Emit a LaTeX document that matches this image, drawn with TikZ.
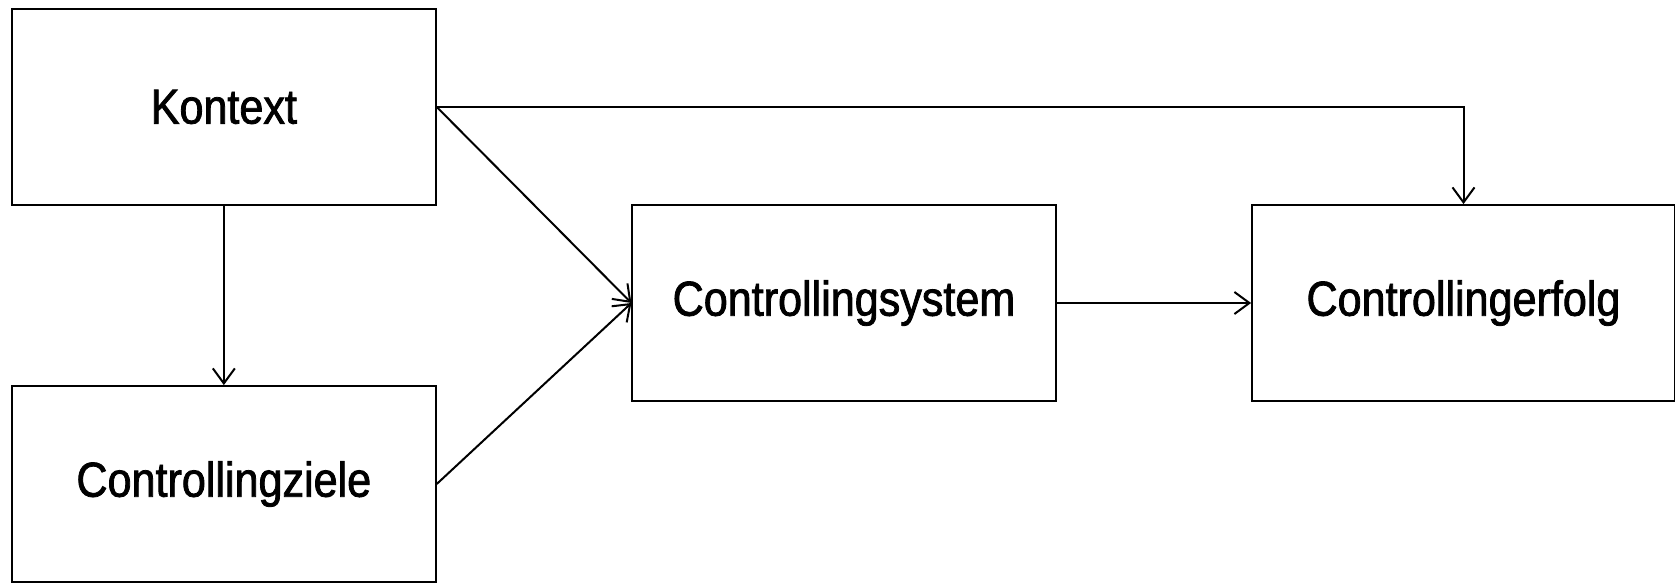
\documentclass[tikz,border=0pt]{standalone}
\usepackage{fontspec}
\setmainfont{Liberation Sans}[FakeStretch=0.88,FakeBold=1.6]
\usetikzlibrary{arrows.meta}
\tikzset{
  box/.style={draw=black, line width=1.8pt, rectangle, minimum width=424pt, minimum height=196pt, inner sep=0pt, font=\fontsize{49pt}{55pt}\selectfont, fill=white},
  conn/.style={draw=black, line width=2pt, -{Straight Barb[length=15pt,width=22pt,line width=2pt]}}
}
\begin{document}
\begin{tikzpicture}[x=1pt,y=1pt]
\useasboundingbox (0,0) rectangle (1675,583);
\node[box] (K) at (223.85,476) {Kontext};
\node[box] (Z) at (223.85,99) {Controllingziele};
\node[box, minimum width=423.4pt] (S) at (844,280) {Controllingsystem};
\node[box, minimum width=423pt] (E) at (1463.5,280) {Controllingerfolg};
\draw[conn] (K.south) -- (Z.north);
\draw[conn] (K.east) -- (S.west);
\draw[conn] (Z.east) -- (S.west);
\draw[conn] (S.east) -- (E.west);
\draw[conn] (K.east) -- (K.east -| E.north) -- (E.north);
\end{tikzpicture}
\end{document}
